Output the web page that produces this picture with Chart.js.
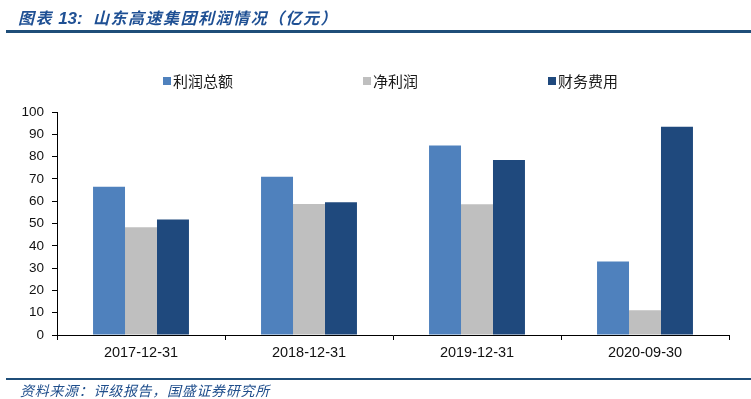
<!DOCTYPE html>
<html>
<head>
<meta charset="utf-8">
<script src="https://cdn.jsdelivr.net/npm/chart.js@4"></script>
<style>
  body { margin: 0; width: 751px; height: 399px; position: relative; overflow: hidden; background: #fff; font-family: "Noto Sans CJK SC", sans-serif; }
  #chart { position: absolute; left: 0; top: 0; }
  .title { position: absolute; left: 18px; top: 6px; font-size: 16px; line-height: 22px; font-weight: bold; font-style: italic; color: #1F5094; white-space: nowrap; letter-spacing: 1.5px; }
  .title .num { font-family: "Liberation Sans", sans-serif; font-size: 17px; letter-spacing: 0; }
  .rule { position: absolute; left: 6px; right: 0; background: #1F4E79; }
  .source { position: absolute; left: 20px; top: 381px; font-size: 14px; line-height: 18px; font-style: italic; color: #1F4E8C; white-space: nowrap; letter-spacing: 0.7px; }
  #legend { position: absolute; left: 163px; top: 71px; display: flex; gap: 130px; font-size: 15px; line-height: 20px; color: #1a1a1a; }
  #legend .item { display: flex; align-items: center; }
  #legend .box { width: 8px; height: 8px; margin-right: 2px; }
</style>
</head>
<body>
<canvas id="chart" width="751" height="399"></canvas>
<div class="title">图表 <span class="num">13:</span>&nbsp;&nbsp;山东高速集团利润情况（亿元）</div>
<div class="rule" style="top:30px;height:3px"></div>
<div id="legend"></div>
<div class="rule" style="top:378px;height:2px"></div>
<div class="source">资料来源：评级报告，国盛证券研究所</div>
<script>
const categories = ['2017-12-31', '2018-12-31', '2019-12-31', '2020-09-30'];
const seriesNames = ['利润总额', '净利润', '财务费用'];
const totalProfit = [66.5, 71.0, 85.0, 33.0];
const netProfit = [48.3, 58.7, 58.6, 11.1];
const financeCost = [51.8, 59.5, 78.5, 93.4];
const yTicks = [0, 10, 20, 30, 40, 50, 60, 70, 80, 90, 100];

const colors = ['#4F81BD', '#BFBFBF', '#1F497D'];
const seriesData = [totalProfit, netProfit, financeCost];

// legend as html, same colours as the bars
const legendEl = document.getElementById('legend');
seriesNames.forEach((name, i) => {
  const item = document.createElement('div');
  item.className = 'item';
  item.innerHTML = '<span class="box" style="background:' + colors[i] + '"></span>' + name;
  legendEl.appendChild(item);
});

const axisFont = { family: '"Liberation Sans", Arial, sans-serif' };

new Chart(document.getElementById('chart').getContext('2d'), {
  type: 'bar',
  data: {
    labels: categories,
    datasets: seriesNames.map((name, i) => ({
      label: name,
      data: seriesData[i],
      backgroundColor: colors[i],
      borderWidth: 0,
      barPercentage: 1,
      categoryPercentage: 0.571
    }))
  },
  options: {
    responsive: false,
    animation: false,
    layout: { padding: { top: 112, right: 22, bottom: 34, left: 0 } },
    plugins: {
      legend: { display: false },
      tooltip: { enabled: false }
    },
    scales: {
      x: {
        grid: { offset: true, drawOnChartArea: false, drawTicks: true, tickLength: 5, color: '#000' },
        border: { color: '#000', width: 1 },
        ticks: { color: '#111', padding: 4, font: { ...axisFont, size: 14.5 } },
        afterFit(scale) { scale.height = 30; }
      },
      y: {
        min: 0,
        max: 100,
        afterBuildTicks(scale) { scale.ticks = yTicks.map(v => ({ value: v })); },
        grid: { drawOnChartArea: false, drawTicks: true, tickLength: 5, color: '#000' },
        border: { color: '#000', width: 1 },
        ticks: { color: '#111', padding: 8, font: { ...axisFont, size: 13.5 } },
        afterFit(scale) { scale.width = 57; }
      }
    }
  }
});
</script>
</body>
</html>
